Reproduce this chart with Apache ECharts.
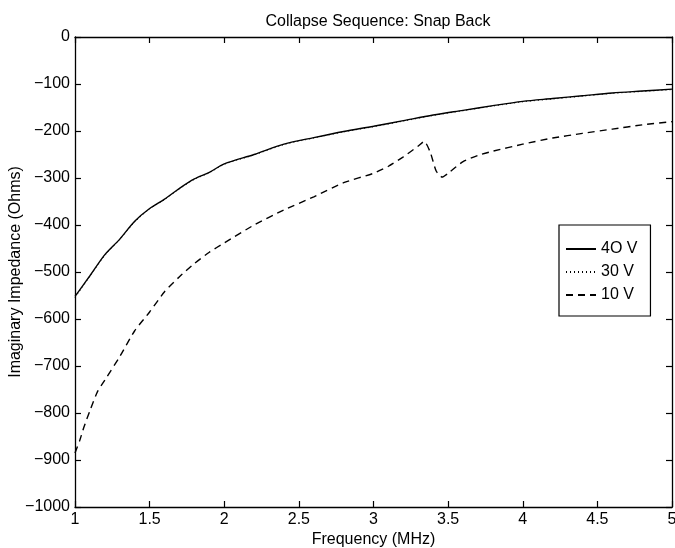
<!DOCTYPE html>
<html><head><meta charset="utf-8">
<script src="https://cdn.jsdelivr.net/npm/echarts@6/dist/echarts.min.js"></script>
<style>html,body{margin:0;padding:0;background:#fff}#c{width:675px;height:548px}</style>
</head><body><div id="c"></div>
<script>
const freq40 = [1.0,1.05,1.1,1.2,1.3,1.4,1.5,1.6,1.7,1.8,1.9,2.0,2.2,2.4,2.6,2.8,3.0,3.2,3.4,3.6,3.8,4.0,4.2,4.4,4.6,4.8,5.0];
const v40 = [-552,-530,-508,-463,-430,-392,-365,-345,-322,-302,-288,-270,-250,-228,-214,-201,-190,-178,-166,-156,-146,-137,-131,-125,-119,-115,-111];
const freq30 = [1.0,1.05,1.1,1.2,1.3,1.4,1.5,1.6,1.7,1.8,1.9,2.0,2.2,2.4,2.6,2.8,3.0,3.2,3.4,3.6,3.8,4.0,4.2,4.4,4.6,4.8,5.0];
const v30 = [-554,-532,-509,-465,-431,-394,-366,-346,-323,-303,-289,-271,-251,-229,-215,-202,-191,-179,-167,-157,-147,-138,-132,-126,-120,-116,-112];
const freq10 = [1.0,1.03,1.06,1.1,1.15,1.2,1.3,1.4,1.5,1.6,1.7,1.8,1.9,2.0,2.2,2.4,2.6,2.8,3.0,3.1,3.2,3.3,3.34,3.38,3.42,3.46,3.5,3.6,3.7,3.8,4.0,4.2,4.4,4.6,4.8,5.0];
const v10 = [-885,-860,-830,-795,-755,-730,-680,-625,-585,-542,-510,-482,-458,-438,-400,-368,-340,-310,-290,-275,-255,-232,-222,-245,-285,-298,-290,-265,-252,-243,-228,-215,-205,-196,-187,-180];
const xTicks = [1,1.5,2,2.5,3,3.5,4,4.5,5];
const yTicks = [0,-100,-200,-300,-400,-500,-600,-700,-800,-900,-1000];
const names = ['4O V','30 V','10 V'];

const zip = (a,b)=>a.map((x,i)=>[x,b[i]]);
const font = 'Liberation Sans, Arial, sans-serif';
const FS = 16;
const axisCommon = {
  axisLine:{show:true,onZero:false,lineStyle:{color:'#000',width:1.3}},
  axisTick:{show:true,inside:true,length:6,lineStyle:{color:'#000',width:1.2}},
  splitLine:{show:false}
};
const chart = echarts.init(document.getElementById('c'));
chart.setOption({
  animation:false,
  backgroundColor:'#fff',
  title:{text:'Collapse Sequence: Snap Back',left:373,top:9,textAlign:'center',
    textStyle:{fontFamily:font,fontSize:FS,fontWeight:'normal',color:'#000'}},
  grid:{left:75,right:3,top:37,bottom:41,containLabel:false,outerBoundsMode:'none'},
  legend:{
    orient:'vertical',left:559,top:225,
    data:names,
    backgroundColor:'#fff',borderColor:'#000',borderWidth:1.2,
    padding:[16,13,13,6],itemGap:7,itemWidth:30,itemHeight:14,
    itemStyle:{opacity:0},
    textStyle:{fontFamily:font,fontSize:FS,color:'#000'}
  },
  xAxis:[
    Object.assign({type:'value',min:xTicks[0],max:xTicks[xTicks.length-1],interval:0.5,
      name:'Frequency (MHz)',nameLocation:'middle',nameGap:25,nameMoveOverlap:false,
      nameTextStyle:{fontFamily:font,fontSize:FS,color:'#000'},
      axisLabel:{margin:5,fontFamily:font,fontSize:FS,color:'#000',formatter:v=>String(v)}},axisCommon),
    Object.assign({type:'value',position:'top',min:1,max:5,interval:0.5,axisLabel:{show:false}},axisCommon)
  ],
  yAxis:[
    Object.assign({type:'value',min:-1000,max:0,interval:100,
      name:'Imaginary Impedance (Ohms)',nameLocation:'middle',nameGap:51,nameMoveOverlap:false,
      nameTextStyle:{fontFamily:font,fontSize:FS,color:'#000'},
      axisLabel:{margin:5,fontFamily:font,fontSize:FS,color:'#000',formatter:v=>String(v).replace('-','\u2212')}},axisCommon),
    Object.assign({type:'value',position:'right',min:-1000,max:0,interval:100,axisLabel:{show:false}},axisCommon)
  ],
  series:[
    {name:names[0],type:'line',data:zip(freq40,v40),symbol:'none',smooth:0.3,
      lineStyle:{color:'#000',width:1.4,type:'solid'},itemStyle:{color:'#000'},z:3},
    {name:names[1],type:'line',data:zip(freq30,v30),symbol:'none',smooth:0.3,
      lineStyle:{color:'#000',width:1,type:[1,3]},itemStyle:{color:'#000'},z:2},
    {name:names[2],type:'line',data:zip(freq10,v10),symbol:'none',smooth:0.2,
      lineStyle:{color:'#000',width:1.4,type:[7,5]},itemStyle:{color:'#000'},z:2}
  ]
});
</script></body></html>
